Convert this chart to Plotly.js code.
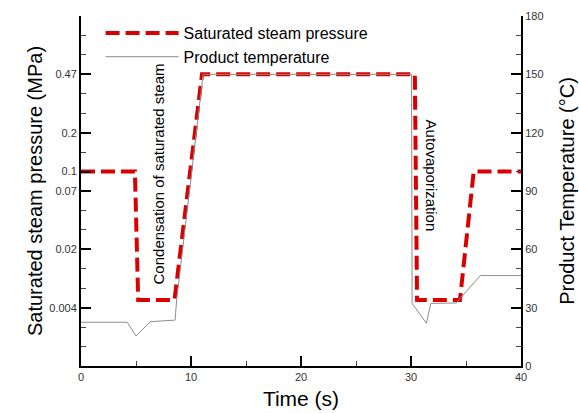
<!DOCTYPE html>
<html>
<head>
<meta charset="utf-8">
<script src="https://cdn.plot.ly/plotly-3.0.1.min.js"></script>
<style>html,body{margin:0;padding:0;background:#fff;}#chart{width:579px;height:413px;}</style>
</head>
<body>
<div id="chart"></div>
<script>
// Saturated steam pressure, expressed on the shared scale as its saturation temperature (°C)
const timePressure = [0, 4.9, 5.2, 8.5, 11.0, 30.35, 30.55, 34.45, 35.7, 40];
const pressureLevel = [100, 100, 34, 34, 150, 150, 34, 34, 100, 100];

// Product temperature (°C)
const timeTemp = [0, 4.2, 5.0, 6.3, 8.55, 8.7, 11.1, 30.05, 30.1, 31.4, 31.8, 34.1, 36.3, 40];
const productTemp = [22.5, 22.5, 15.4, 22.8, 23.6, 34, 150, 150, 32.2, 22, 32.2, 32.4, 46.5, 46.5];

// Left axis tick labels (pressure, MPa) at their positions on the shared scale
const pressureTickVals = [0, 30, 60, 90, 100, 120, 150, 180];
const pressureTickText = ['', '0.004', '0.02', '0.07', '0.1', '0.2', '0.47', ''];

const FONT = 'Liberation Sans, Arial, sans-serif';

const traces = [
  {
    x: timePressure, y: pressureLevel, yaxis: 'y', type: 'scatter', mode: 'lines',
    name: 'Saturated steam pressure',
    line: {color: '#d80000', width: 4, dash: '14px,6px'}
  },
  {
    x: timeTemp, y: productTemp, yaxis: 'y2', type: 'scatter', mode: 'lines',
    name: 'Product temperature',
    line: {color: '#8c8c8c', width: 1}
  }
];

const axisCommon = {
  showline: true, linecolor: '#000', linewidth: 2,
  ticks: 'inside', ticklen: 10, tickwidth: 2, tickcolor: '#000',
  showgrid: false, zeroline: false,
  tickfont: {family: FONT, size: 11, color: '#333'}
};

const minorTicks = function (step) {
  return {ticks: 'inside', ticklen: 5, tickwidth: 1, tickcolor: '#444', tickmode: 'linear', tick0: 0, dtick: step};
};

const layout = {
  width: 579, height: 413,
  margin: {l: 81, r: 58, t: 16, b: 47},
  paper_bgcolor: '#fff', plot_bgcolor: '#fff',
  font: {family: FONT, color: '#000'},
  showlegend: true,
  legend: {
    x: 0.0445, y: 1.0, xanchor: 'left', yanchor: 'top',
    bgcolor: 'rgba(255,255,255,0)', font: {family: FONT, size: 16, color: '#000'},
    itemwidth: 73, tracegroupgap: 0
  },
  xaxis: Object.assign({}, axisCommon, {
    range: [0, 40], tickmode: 'linear', tick0: 0, dtick: 10,
    minor: minorTicks(5),
    title: {text: 'Time (s)', font: {family: FONT, size: 21, color: '#000'}, standoff: 9}
  }),
  yaxis: Object.assign({}, axisCommon, {
    range: [0, 180], tickmode: 'array', tickvals: pressureTickVals, ticktext: pressureTickText,
    minor: minorTicks(10),
    title: {text: 'Saturated steam pressure (MPa)', font: {family: FONT, size: 20, color: '#000'}, standoff: 1}
  }),
  yaxis2: Object.assign({}, axisCommon, {
    range: [0, 180], overlaying: 'y', side: 'right', tickmode: 'linear', tick0: 0, dtick: 30,
    minor: minorTicks(10),
    title: {text: 'Product Temperature (°C)', font: {family: FONT, size: 20, color: '#000'}, standoff: 17}
  }),
  annotations: [
    {x: 7.0, y: 98.5, xref: 'x', yref: 'y', text: 'Condensation of saturated steam', textangle: -90,
     showarrow: false, bgcolor: '#fff', font: {family: FONT, size: 15, color: '#000'}},
    {x: 31.9, y: 98, xref: 'x', yref: 'y', text: 'Autovaporization', textangle: 90,
     showarrow: false, bgcolor: '#fff', font: {family: FONT, size: 15, color: '#000'}}
  ]
};

Plotly.newPlot('chart', traces, layout, {displayModeBar: false, staticPlot: true});
</script>
</body>
</html>
